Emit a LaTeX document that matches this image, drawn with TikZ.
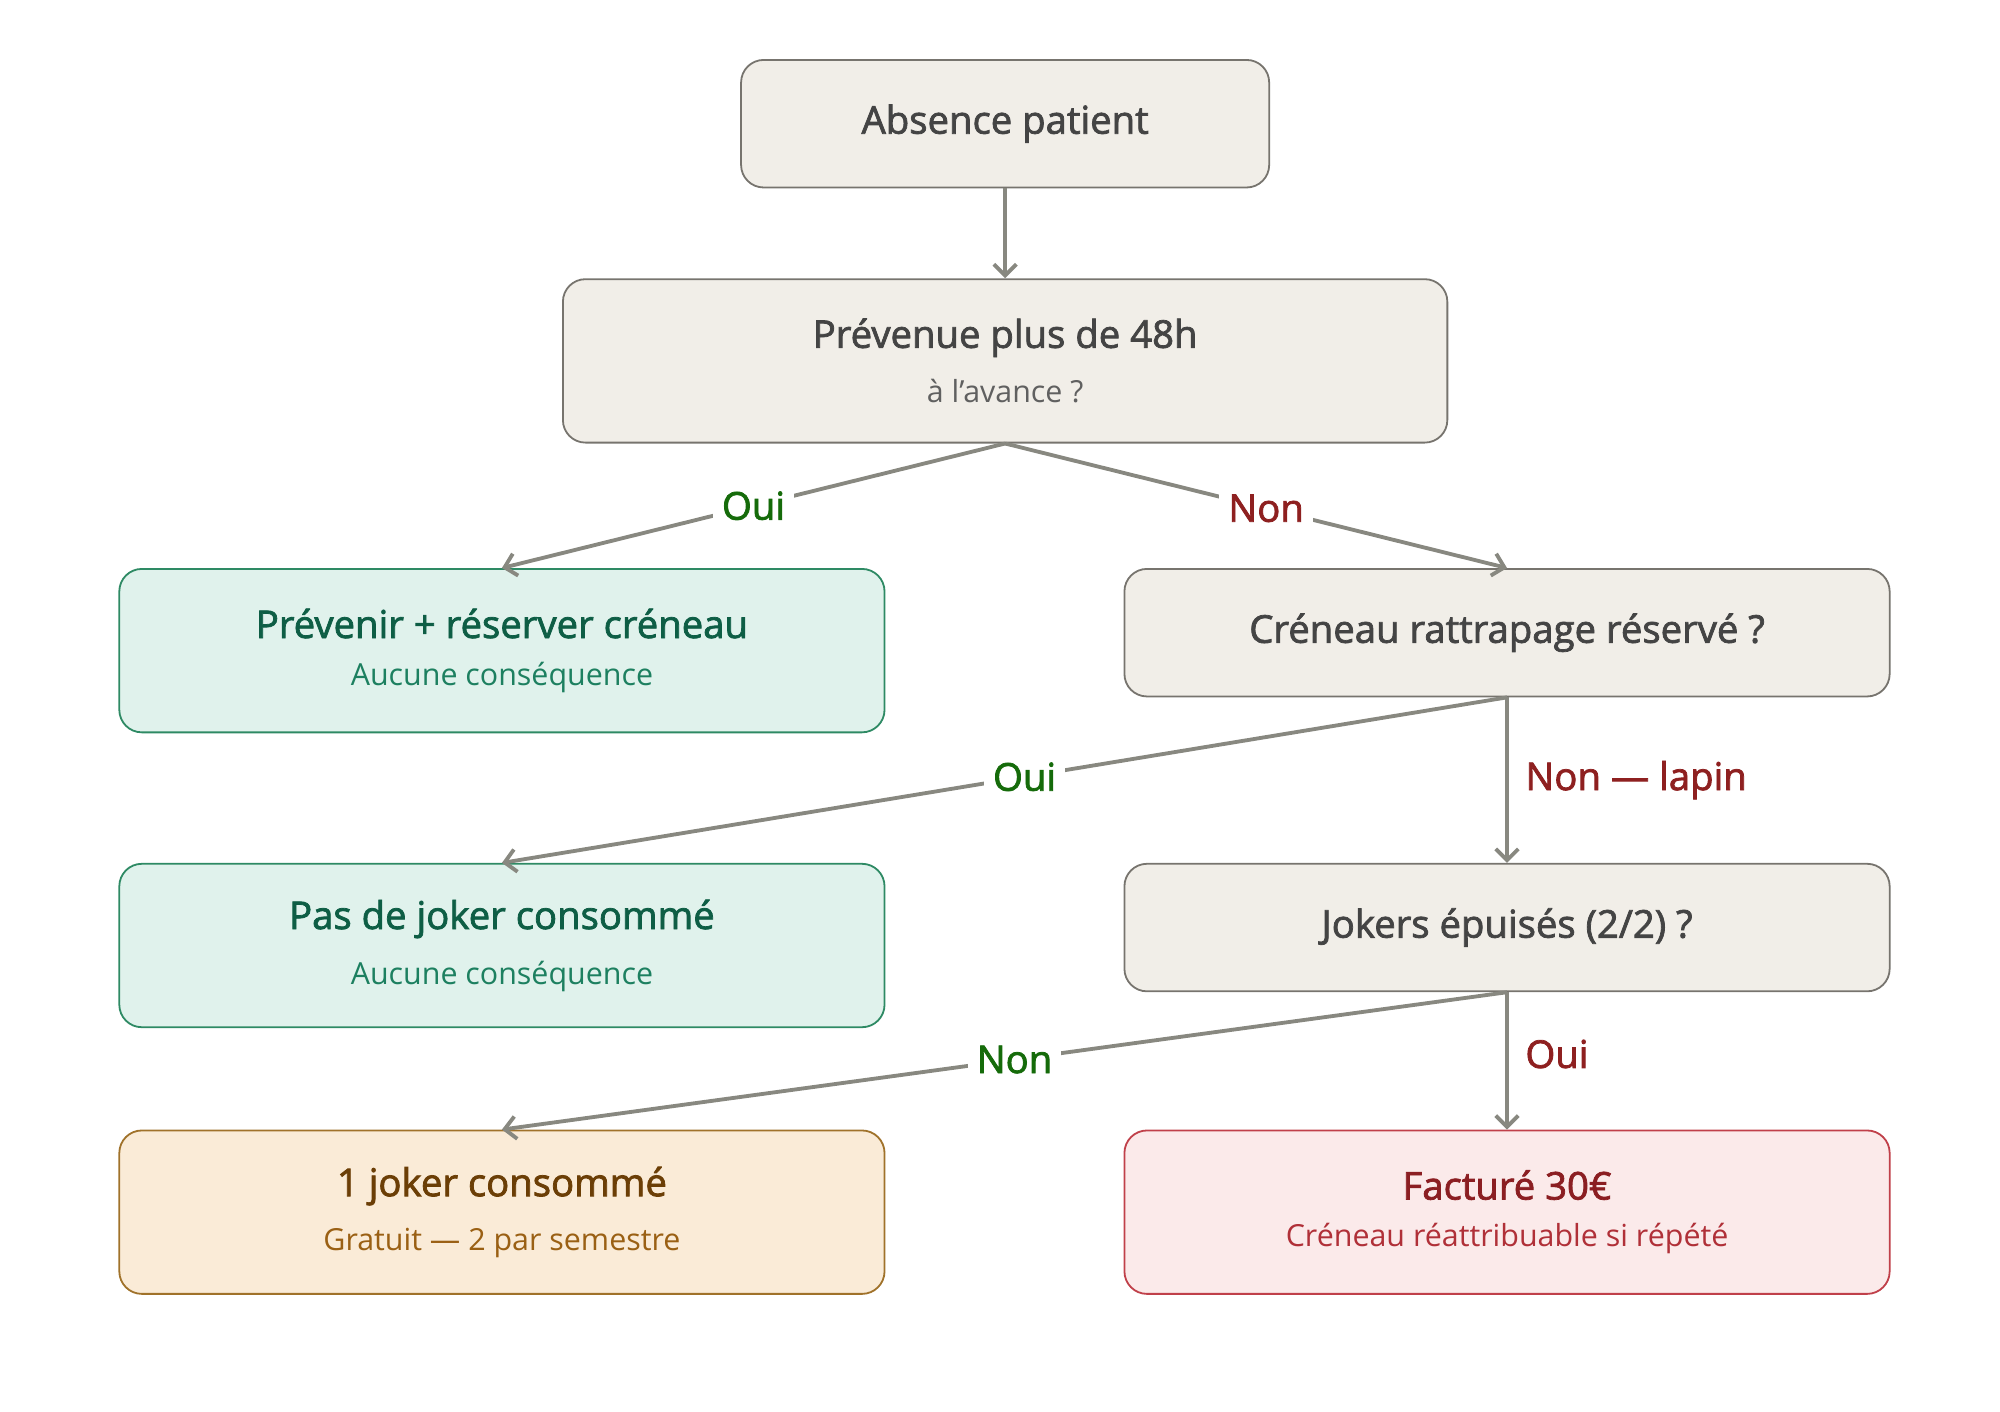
\documentclass[tikz,border=0pt]{standalone}
\usepackage{fontspec}
\setmainfont{Open Sans}
\newfontfamily\semi{Open Sans}[FakeBold=2]
\usetikzlibrary{arrows.meta}
\definecolor{grayfill}{HTML}{F1EEE8}
\definecolor{grayline}{HTML}{77746E}
\definecolor{graytext}{HTML}{444444}
\definecolor{greenfill}{HTML}{E0F2EC}
\definecolor{greenline}{HTML}{2E8A64}
\definecolor{greentext}{HTML}{0E5E45}
\definecolor{greensub}{HTML}{1D8060}
\definecolor{orangefill}{HTML}{FAEBD7}
\definecolor{orangeline}{HTML}{A0722A}
\definecolor{orangetext}{HTML}{6B3E06}
\definecolor{orangesub}{HTML}{9A6014}
\definecolor{redfill}{HTML}{FBEAEA}
\definecolor{redline}{HTML}{C0404A}
\definecolor{redtext}{HTML}{8B1E22}
\definecolor{redsub}{HTML}{B03038}
\definecolor{arrowgray}{HTML}{888880}
\definecolor{yesgreen}{HTML}{156B0A}
\definecolor{nored}{HTML}{8E2020}
\begin{document}
\begin{tikzpicture}[x=0.02cm, y=-0.02cm,
    box/.style={draw, rounded corners=10pt, line width=0.8pt, align=center, inner sep=0pt},
    gray box/.style={box, fill=grayfill, draw=grayline, text=graytext},
    green box/.style={box, fill=greenfill, draw=greenline, text=greentext},
    orange box/.style={box, fill=orangefill, draw=orangeline, text=orangetext},
    red box/.style={box, fill=redfill, draw=redline, text=redtext},
    flow/.style={draw=arrowgray, line width=1.7pt, -{Straight Barb[length=5pt, width=10pt]}},
    lbl/.style={fill=white, font=\fontsize{17}{21}\selectfont\semi, inner sep=4pt}]
  \useasboundingbox (0,0) rectangle (1560,1101);
  % Boxes
  \node[gray box, minimum width=8.24cm, minimum height=1.99cm] (absence) at (784,96.5)
    {\fontsize{17}{21}\selectfont\semi Absence patient};
  \node[gray box, minimum width=13.8cm, minimum height=2.55cm] (delay) at (784,281.5)
    {{\fontsize{17}{21}\selectfont\semi Prévenue plus de 48h}\\[9pt]{\color{graytext!85}\fontsize{13.5}{16}\selectfont à l'avance ?}};
  \node[green box, minimum width=11.94cm, minimum height=2.55cm] (warn) at (391.5,507.5)
    {{\fontsize{17}{21}\selectfont\semi Prévenir + réserver créneau}\\[9pt]{\color{greensub}\fontsize{13.5}{16}\selectfont Aucune conséquence}};
  \node[gray box, minimum width=11.94cm, minimum height=1.99cm] (slot) at (1175.5,493.5)
    {\fontsize{17}{21}\selectfont\semi Créneau rattrapage réservé ?};
  \node[green box, minimum width=11.94cm, minimum height=2.55cm] (nojoker) at (391.5,737.5)
    {{\fontsize{17}{21}\selectfont\semi Pas de joker consommé}\\[9pt]{\color{greensub}\fontsize{13.5}{16}\selectfont Aucune conséquence}};
  \node[gray box, minimum width=11.94cm, minimum height=1.99cm] (jokers) at (1175.5,723.5)
    {\fontsize{17}{21}\selectfont\semi Jokers épuisés (2/2) ?};
  \node[orange box, minimum width=11.94cm, minimum height=2.55cm] (onejoker) at (391.5,945.5)
    {{\fontsize{17}{21}\selectfont\semi 1 joker consommé}\\[9pt]{\color{orangesub}\fontsize{13.5}{16}\selectfont Gratuit — 2 par semestre}};
  \node[red box, minimum width=11.94cm, minimum height=2.55cm] (billed) at (1175.5,945.5)
    {{\fontsize{17}{21}\selectfont\semi Facturé 30€}\\[9pt]{\color{redsub}\fontsize{13.5}{16}\selectfont Créneau réattribuable si répété}};
  % Connectors
  \draw[flow] (absence.south) -- (delay.north);
  \draw[flow] (delay.south) -- node[lbl, text=yesgreen, pos=0.5] {Oui} (warn.north);
  \draw[flow] (delay.south) -- node[lbl, text=nored, pos=0.52] {Non} (slot.north);
  \draw[flow] (slot.south) -- node[lbl, text=yesgreen, pos=0.48] {Oui} (nojoker.north);
  \draw[flow] (slot.south) -- node[text=nored, right=4pt, font=\fontsize{17}{21}\selectfont\semi] {Non — lapin} (jokers.north);
  \draw[flow] (jokers.south) -- node[lbl, text=yesgreen, pos=0.49] {Non} (onejoker.north);
  \draw[flow] (jokers.south) -- node[text=nored, right=4pt, pos=0.45, font=\fontsize{17}{21}\selectfont\semi] {Oui} (billed.north);
\end{tikzpicture}
\end{document}
